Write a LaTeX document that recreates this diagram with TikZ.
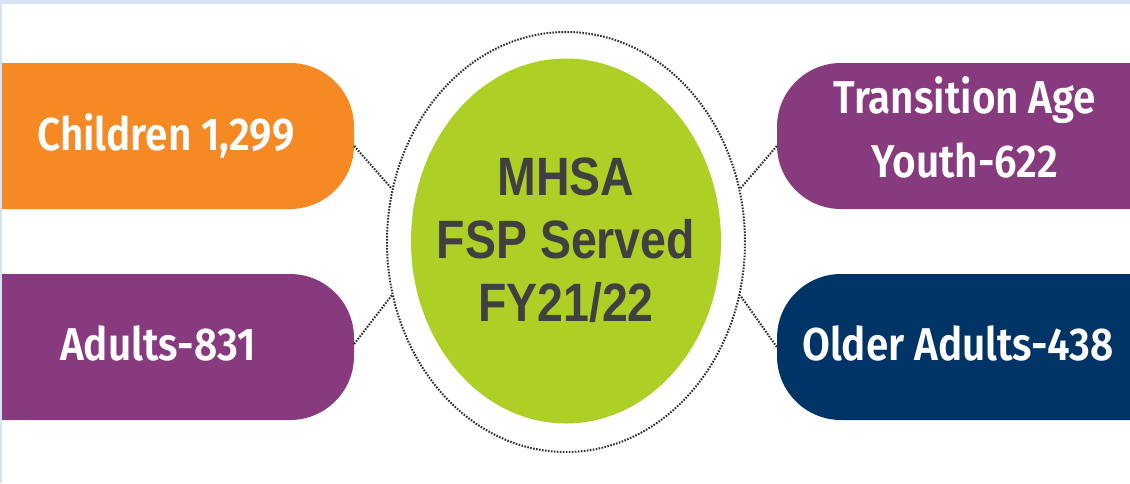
\documentclass[tikz,border=0pt]{standalone}
\usepackage{fontspec}
\usetikzlibrary{shapes.geometric}
\newfontfamily\centerfont[FakeStretch=0.86]{Liberation Sans}
\newfontfamily\boxfont[FakeStretch=0.88]{Fira Sans SemiBold}
\definecolor{orangeA}{HTML}{F58A24}
\definecolor{purpleA}{HTML}{883A7F}
\definecolor{navyA}{HTML}{003466}
\definecolor{greenA}{HTML}{AECF25}
\definecolor{textA}{HTML}{404040}
\definecolor{frameA}{HTML}{D9E2F3}
\definecolor{dotA}{HTML}{2E2E2E}
\tikzset{
  box/.style={rectangle, rounded corners=64pt, minimum width=454pt, minimum height=146pt, inner sep=0pt, draw=none},
  boxlabel/.style={text=white, font=\boxfont\fontsize{46}{64}\selectfont, align=center, inner sep=0pt},
  conn/.style={draw=dotA, line width=2pt, dash pattern=on 1.6pt off 1.4pt},
}
\begin{document}
\begin{tikzpicture}[x=1pt,y=-1pt]
\useasboundingbox (0,0) rectangle (1130,483);
\fill[white] (0,0) rectangle (1130,483);
% side boxes
\node[box, fill=orangeA] (childrenbox) at (127,136) {};
\node[box, fill=purpleA] (adultsbox) at (127,347) {};
\node[box, fill=purpleA] (taybox) at (1004,136) {};
\node[box, fill=navyA] (olderbox) at (1004,347) {};
\node[boxlabel, anchor=base] (childrenlabel) at (166,150) {Children 1,299};
\node[boxlabel, anchor=base] (adultslabel) at (158,360) {Adults-831};
\node[boxlabel] (taylabel) at (965,127) {Transition Age\\Youth-622};
\node[boxlabel, anchor=base] (olderlabel) at (958,360) {Older Adults-438};
% centre
\node[ellipse, conn, minimum width=358pt, minimum height=420pt, inner sep=0pt] (ring) at (566,242) {};
\node[ellipse, fill=greenA, minimum width=310pt, minimum height=365pt, inner sep=0pt] (core) at (566,241) {};
\node[text=textA, align=center, inner sep=0pt, font=\centerfont\bfseries\fontsize{54}{63}\selectfont] (corelabel) at (core.center) [yshift=1pt] {MHSA\\FSP Served\\FY21/22};
% connectors
\draw[conn] ([yshift=-10pt]childrenbox.east) -- (ring.163);
\draw[conn] ([yshift=3pt]adultsbox.east) -- (ring.197);
\draw[conn] ([yshift=-10pt]taybox.west) -- (ring.17);
\draw[conn] (olderbox.west) -- (ring.343);
% frame strips
\fill[frameA] (0,0) rectangle (1130,4);
\fill[frameA] (0,0) rectangle (2,483);
\end{tikzpicture}
\end{document}
